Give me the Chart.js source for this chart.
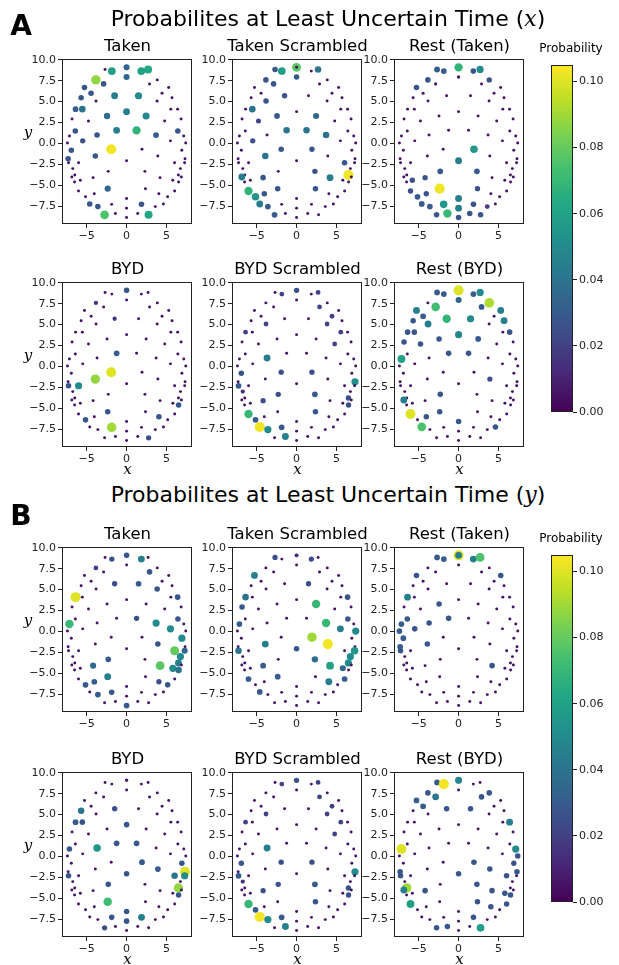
<!DOCTYPE html>
<html>
<head>
<meta charset="utf-8">
<script src="https://cdn.jsdelivr.net/npm/chart.js@4.4.0/dist/chart.umd.min.js"></script>
<style>
  body { margin: 0; background: #fff; }
  #fig { position: relative; width: 619px; height: 965px; overflow: hidden;
         font-family: "DejaVu Sans", sans-serif; color: #000; }
  #fig canvas { position: absolute; }
  .txt { position: absolute; white-space: nowrap; transform: translate(-50%, -50%); }
  .math { font-family: "DejaVu Serif", serif; font-style: italic; }
</style>
</head>
<body>
<div id="fig"></div>
<script>
/* ── electrode positions (shared by every panel) ─────────────── */
const elecX = [
  -2.7, -1.85, 0, 0, 1.85, 2.7, 0, -3.85, 3.85, -2.88,
  2.88, -5.28, 5.28, -4.45, 4.45, -1.5, 1.5, -5.7, 5.7, -3.83,
  3.83, -6.4, -5.55, 5.55, 6.4, 0, -2.45, 2.45, -6.84, 6.84,
  -4.78, 4.78, -6.43, 6.43, -1.25, 1.25, -3.7, 3.7, -7.17, 7.17,
  -5.5, 5.5, -7.42, 7.42, -1.93, 1.93, -6.93, 6.93, -3.92, 3.92,
  -7.33, 7.33, 0, -7.28, 7.28, -6.02, 6.02, -6.75, 6.75, -2.3,
  2.3, -6.5, 6.5, -6.87, 6.87, -4.2, 4.2, -5.8, 5.8, -6.52,
  6.52, -2.37, 2.37, -6.03, 6.03, -4.05, 4.05, -5.15, 5.15, 0,
  -4.62, 4.62, -1.87, 1.87, -3.6, 3.6, 0, -1.4, 1.4, -2.76,
  2.76, 0
];
const elecY = [
  8.85, 8.65, 9.1, 9.1, 8.65, 8.85, 7.95, 7.6, 7.6, 7.12,
  7.12, 6.7, 6.7, 6.0, 6.0, 5.7, 5.7, 5.47, 5.47, 5.07,
  5.07, 4.1, 4.1, 4.1, 4.1, 3.8, 3.28, 3.28, 2.92, 2.92,
  2.68, 2.68, 1.48, 1.48, 1.56, 1.56, 1.0, 1.0, 0.88, 0.88,
  0.3, 0.3, 0.04, 0.04, -0.7, -0.7, -0.82, -0.82, -1.52, -1.52,
  -1.84, -1.84, -2.08, -2.32, -2.32, -2.32, -2.32, -3.02, -3.02, -3.35,
  -3.35, -3.78, -3.78, -4.02, -4.02, -4.1, -4.1, -4.42, -4.42, -4.63,
  -4.63, -5.42, -5.42, -5.7, -5.7, -6.03, -6.03, -6.4, -6.4, -6.6,
  -7.25, -7.25, -7.3, -7.3, -7.57, -7.57, -7.75, -8.4, -8.4, -8.55,
  -8.55, -8.88
];

/* ── probabilities per panel (same electrode order) ──────────── */
const takenX = [
  .005,.06,.005,.035,.06,.062,.035,.088,.005,.028,
  .005,.028,.005,.028,.005,.045,.05,.028,.005,.006,
  .006,.03,.04,.005,.005,.045,.038,.048,.005,.005,
  .006,.005,.028,.028,.045,.068,.028,.03,.005,.005,
  .026,.005,.005,.005,.103,.005,.028,.005,.028,.005,
  .028,.005,.005,.005,.005,.005,.005,.005,.005,.005,
  .005,.005,.005,.005,.005,.005,.005,.005,.005,.005,
  .005,.035,.005,.005,.005,.005,.005,.005,.005,.005,
  .028,.005,.005,.028,.028,.005,.005,.005,.005,.075,
  .062,.005
];
const takenScrX = [
  .028,.058,.078,.005,.005,.04,.028,.028,.005,.028,
  .005,.005,.005,.005,.005,.026,.005,.005,.005,.028,
  .005,.005,.04,.005,.005,.005,.03,.035,.005,.005,
  .022,.005,.005,.005,.04,.04,.005,.04,.005,.005,
  .026,.005,.005,.005,.028,.026,.005,.005,.04,.005,
  .005,.005,.005,.005,.005,.005,.028,.005,.005,.005,
  .026,.005,.103,.045,.005,.028,.045,.005,.005,.005,
  .005,.028,.028,.068,.005,.028,.005,.055,.005,.005,
  .045,.005,.005,.005,.03,.005,.005,.005,.005,.03,
  .005,.005
];
const restTakenX = [
  .032,.03,.005,.068,.028,.05,.008,.028,.026,.006,
  .005,.028,.005,.006,.005,.005,.005,.005,.005,.005,
  .005,.005,.005,.005,.005,.005,.005,.005,.005,.005,
  .005,.005,.005,.005,.005,.005,.005,.005,.005,.005,
  .005,.005,.005,.005,.005,.055,.005,.005,.005,.005,
  .005,.005,.045,.005,.005,.005,.005,.005,.005,.03,
  .03,.005,.005,.005,.005,.026,.005,.026,.005,.005,
  .005,.103,.026,.026,.005,.026,.005,.03,.005,.045,
  .03,.005,.055,.028,.03,.02,.045,.07,.028,.028,
  .028,.028
];
const bydX = [
  .005,.005,.005,.028,.005,.005,.005,.015,.005,.005,
  .005,.005,.005,.005,.005,.015,.005,.005,.005,.005,
  .005,.005,.005,.005,.005,.005,.005,.005,.005,.005,
  .005,.005,.005,.005,.03,.005,.005,.005,.005,.005,
  .005,.005,.005,.005,.1,.005,.005,.005,.088,.005,
  .005,.005,.005,.028,.005,.05,.005,.005,.005,.005,
  .005,.005,.005,.005,.005,.005,.005,.005,.005,.005,
  .028,.028,.005,.005,.005,.005,.028,.028,.005,.005,
  .005,.005,.09,.005,.005,.005,.005,.005,.005,.005,
  .025,.005
];
const bydScr = [
  .005,.02,.005,.026,.005,.02,.005,.005,.005,.005,
  .02,.005,.005,.005,.02,.005,.005,.005,.005,.02,
  .02,.02,.005,.02,.005,.005,.005,.005,.005,.005,
  .005,.02,.005,.005,.005,.005,.045,.005,.005,.005,
  .005,.005,.005,.005,.025,.025,.028,.005,.005,.005,
  .005,.05,.005,.03,.005,.005,.005,.015,.005,.026,
  .03,.005,.026,.005,.005,.025,.005,.005,.005,.005,
  .026,.005,.028,.07,.005,.005,.005,.03,.005,.005,
  .103,.005,.03,.005,.05,.005,.005,.045,.005,.005,
  .005,.005
];
const restBydX = [
  .03,.03,.005,.1,.03,.05,.035,.005,.092,.072,
  .03,.045,.045,.03,.005,.068,.05,.028,.045,.045,
  .005,.028,.028,.005,.028,.048,.028,.03,.028,.005,
  .028,.005,.005,.005,.028,.028,.005,.005,.06,.005,
  .005,.005,.005,.005,.005,.005,.005,.005,.005,.025,
  .005,.005,.005,.005,.005,.005,.005,.005,.005,.028,
  .005,.005,.005,.045,.005,.005,.005,.005,.005,.005,
  .005,.028,.005,.1,.005,.028,.005,.005,.005,.028,
  .075,.028,.005,.005,.005,.005,.005,.005,.005,.005,
  .005,.005
];
const takenY = [
  .005,.026,.005,.028,.045,.005,.005,.02,.005,.005,
  .028,.005,.005,.005,.005,.025,.03,.005,.005,.005,
  .028,.1,.005,.005,.028,.005,.005,.005,.005,.005,
  .005,.005,.005,.028,.005,.025,.005,.05,.07,.005,
  .005,.05,.005,.005,.005,.005,.005,.05,.005,.028,
  .005,.005,.005,.005,.035,.005,.08,.005,.05,.03,
  .005,.005,.045,.005,.005,.035,.078,.005,.05,.005,
  .04,.045,.005,.005,.005,.03,.025,.03,.028,.005,
  .005,.005,.028,.005,.03,.005,.005,.005,.005,.005,
  .005,.03
];
const takenScrY = [
  .025,.005,.005,.012,.025,.005,.005,.005,.005,.005,
  .005,.045,.005,.005,.005,.005,.025,.005,.005,.005,
  .005,.04,.005,.005,.028,.005,.005,.07,.028,.005,
  .005,.005,.005,.028,.005,.005,.005,.07,.03,.005,
  .005,.045,.005,.05,.005,.09,.005,.005,.045,.103,
  .005,.005,.028,.04,.055,.005,.005,.005,.05,.005,
  .038,.005,.05,.005,.005,.03,.06,.005,.035,.005,
  .005,.03,.005,.03,.03,.005,.045,.005,.005,.005,
  .03,.005,.005,.005,.005,.005,.005,.005,.005,.005,
  .005,.005
];
const restTakenY = [
  .03,.03,.1,.045,.045,.075,.005,.005,.005,.005,
  .005,.028,.028,.005,.005,.005,.005,.005,.005,.005,
  .005,.045,.005,.005,.005,.005,.028,.005,.005,.005,
  .005,.005,.028,.005,.028,.005,.028,.005,.03,.005,
  .028,.005,.03,.005,.005,.005,.03,.005,.028,.005,
  .03,.005,.005,.028,.005,.005,.005,.005,.005,.005,
  .005,.005,.005,.005,.005,.005,.028,.005,.005,.005,
  .005,.005,.005,.005,.005,.005,.005,.005,.005,.005,
  .005,.005,.005,.005,.005,.005,.005,.005,.005,.005,
  .005,.005
];
const bydY = [
  .005,.005,.005,.005,.005,.005,.005,.005,.005,.005,
  .005,.005,.005,.005,.005,.026,.005,.04,.005,.005,
  .005,.03,.028,.005,.005,.028,.005,.005,.005,.005,
  .005,.005,.005,.005,.03,.03,.055,.005,.028,.005,
  .005,.005,.005,.005,.005,.03,.005,.028,.005,.03,
  .005,.1,.028,.028,.05,.005,.04,.005,.005,.028,
  .005,.005,.088,.005,.005,.005,.005,.005,.005,.005,
  .028,.072,.005,.005,.005,.005,.005,.005,.005,.028,
  .005,.005,.028,.045,.005,.005,.028,.005,.005,.025,
  .005,.005
];
const restBydY = [
  .03,.103,.005,.048,.005,.005,.005,.028,.028,.042,
  .028,.03,.005,.03,.005,.028,.028,.005,.005,.005,
  .005,.005,.005,.005,.045,.005,.005,.005,.005,.005,
  .005,.005,.005,.005,.005,.005,.005,.005,.1,.05,
  .005,.005,.005,.028,.005,.028,.005,.026,.005,.028,
  .028,.028,.028,.028,.005,.005,.028,.005,.005,.005,
  .028,.09,.005,.045,.005,.028,.028,.005,.028,.005,
  .028,.005,.028,.06,.028,.005,.028,.005,.005,.005,
  .005,.005,.005,.028,.005,.005,.005,.028,.005,.028,
  .058,.005
];

const panelTitles = ['Taken', 'Taken Scrambled', 'Rest (Taken)', 'BYD', 'BYD Scrambled', 'Rest (BYD)'];
const xTicks = [-5, 0, 5];
const yTicks = [-7.5, -5, -2.5, 0, 2.5, 5, 7.5, 10];
const cbTicks = [0, 0.02, 0.04, 0.06, 0.08, 0.1];
const vMax = 0.105;

/* ── layout (pixels) ─────────────────────────────────────────── */
const colLeft = [62, 232, 394];
const rowTop = [59, 282, 547, 772];
const boxW = 131, boxH = 165;
const cbLeft = 551, cbW = 22;
const cbTop = [65, 555], cbH = 347;

const fig = document.getElementById('fig');

const VIRIDIS = ['#440154', '#482475', '#414487', '#355f8d', '#2a788e', '#21918c',
                 '#22a884', '#44bf70', '#7ad151', '#bddf26', '#fde725'];
function hexRgb(h) { return [1, 3, 5].map(i => parseInt(h.slice(i, i + 2), 16)); }
function viridis(t) {
  t = Math.min(1, Math.max(0, t));
  const f = t * 10, i = Math.min(9, Math.floor(f)), r = f - i;
  const a = hexRgb(VIRIDIS[i]), b = hexRgb(VIRIDIS[i + 1]);
  return 'rgb(' + a.map((v, k) => Math.round(v + (b[k] - v) * r)).join(',') + ')';
}
const minus = v => (v < 0 ? '\u2212' : '');

function addText(html, x, y, css) {
  const d = document.createElement('div');
  d.className = 'txt';
  d.innerHTML = html;
  d.style.left = x + 'px';
  d.style.top = y + 'px';
  Object.assign(d.style, css || {});
  fig.appendChild(d);
}

const frame = {
  id: 'frame',
  afterDraw(ch) {
    const a = ch.chartArea, c = ch.ctx;
    c.save();
    c.strokeStyle = '#222';
    c.lineWidth = 1;
    c.strokeRect(Math.round(a.left) + 0.5, Math.round(a.top) + 0.5,
                 Math.round(a.right - a.left) - 1, Math.round(a.bottom - a.top) - 1);
    c.restore();
  }
};

const tickFont = { family: 'DejaVu Sans', size: 11 };
const gridTicks = { display: true, drawOnChartArea: false, drawTicks: true, tickLength: 4, color: '#222' };

function makePanel(vals, col, row) {
  const padT = 12, padR = 4, yw = 34, xh = 18;
  const W = boxW + yw + padR, H = boxH + padT + xh;
  const cv = document.createElement('canvas');
  cv.width = W; cv.height = H;
  cv.style.left = (colLeft[col] - yw) + 'px';
  cv.style.top = (rowTop[row] - padT) + 'px';
  cv.style.width = W + 'px'; cv.style.height = H + 'px';
  fig.appendChild(cv);

  new Chart(cv, {
    type: 'scatter',
    data: {
      datasets: [{
        data: elecX.map((x, i) => ({ x, y: elecY[i], p: vals[i] })),
        pointRadius: c => Math.sqrt(1 + 240 * c.raw.p),
        pointBackgroundColor: c => viridis(c.raw.p / vMax),
        pointBorderWidth: 0
      }]
    },
    options: {
      responsive: false, animation: false, events: [],
      layout: { padding: { top: padT, right: padR, left: 0, bottom: 0 } },
      plugins: { legend: { display: false }, tooltip: { enabled: false } },
      scales: {
        x: {
          type: 'linear', min: -8.1, max: 8.2,
          afterBuildTicks: s => { s.ticks = xTicks.map(v => ({ value: v })); },
          afterFit: s => { s.height = xh; },
          ticks: { font: tickFont, color: '#222', padding: 2, maxRotation: 0,
                   callback: v => minus(v) + Math.abs(v) },
          grid: gridTicks, border: { display: false }
        },
        y: {
          type: 'linear', min: -9.65, max: 10.1,
          afterBuildTicks: s => { s.ticks = yTicks.map(v => ({ value: v })); },
          afterFit: s => { s.width = yw; },
          ticks: { font: tickFont, color: '#222', padding: 2,
                   callback: v => minus(v) + Math.abs(v).toFixed(1) },
          grid: gridTicks, border: { display: false }
        }
      }
    },
    plugins: [frame]
  });

  addText(panelTitles[(row % 2) * 3 + col], colLeft[col] + boxW / 2, rowTop[row] - 14,
          { fontSize: '16.5px' });
}

const cbFill = {
  id: 'cbFill',
  beforeDatasetsDraw(ch) {
    const a = ch.chartArea, c = ch.ctx;
    const g = c.createLinearGradient(0, a.bottom, 0, a.top);
    VIRIDIS.forEach((col, i) => g.addColorStop(i / 10, col));
    c.save();
    c.fillStyle = g;
    c.fillRect(a.left, a.top, a.right - a.left, a.bottom - a.top);
    c.restore();
  }
};

function makeColorbar(top) {
  const pad = 10, yw = 40;
  const W = cbW + yw, H = cbH + 2 * pad;
  const cv = document.createElement('canvas');
  cv.width = W; cv.height = H;
  cv.style.left = cbLeft + 'px';
  cv.style.top = (top - pad) + 'px';
  cv.style.width = W + 'px'; cv.style.height = H + 'px';
  fig.appendChild(cv);
  new Chart(cv, {
    type: 'scatter',
    data: { datasets: [{ data: [] }] },
    options: {
      responsive: false, animation: false, events: [],
      layout: { padding: { top: pad, bottom: pad, left: 0, right: 0 } },
      plugins: { legend: { display: false }, tooltip: { enabled: false } },
      scales: {
        x: { type: 'linear', display: false, min: 0, max: 1 },
        y: {
          type: 'linear', position: 'right', min: 0, max: vMax,
          afterBuildTicks: s => { s.ticks = cbTicks.map(v => ({ value: v })); },
          afterFit: s => { s.width = yw; },
          ticks: { font: tickFont, color: '#222', padding: 2, callback: v => v.toFixed(2) },
          grid: gridTicks, border: { display: false }
        }
      }
    },
    plugins: [cbFill, frame]
  });
  addText('Probability', cbLeft + 20, top - 17, { fontSize: '12px' });
}

const panels = [
  [takenX, 0, 0], [takenScrX, 1, 0], [restTakenX, 2, 0],
  [bydX, 0, 1], [bydScr, 1, 1], [restBydX, 2, 1],
  [takenY, 0, 2], [takenScrY, 1, 2], [restTakenY, 2, 2],
  [bydY, 0, 3], [bydScr, 1, 3], [restBydY, 2, 3]
];
panels.forEach(p => makePanel(p[0], p[1], p[2]));
makeColorbar(cbTop[0]);
makeColorbar(cbTop[1]);

/* ── figure text ─────────────────────────────────────────────── */
addText('Probabilites at Least Uncertain Time (<span class="math">x</span>)', 328, 18, { fontSize: '22px' });
addText('Probabilites at Least Uncertain Time (<span class="math">y</span>)', 328, 494, { fontSize: '22px' });
addText('A', 21, 25, { fontSize: '28px', fontWeight: 'bold' });
addText('B', 21, 515, { fontSize: '28px', fontWeight: 'bold' });
rowTop.forEach(t => addText('y', 28, t + boxH / 2 - 10, { fontSize: '15px', fontFamily: '"DejaVu Serif", serif', fontStyle: 'italic' }));
[1, 3].forEach(r => colLeft.forEach(l =>
  addText('x', l + boxW / 2, rowTop[r] + boxH + 22, { fontSize: '15px', fontFamily: '"DejaVu Serif", serif', fontStyle: 'italic' })));
</script>
</body>
</html>
